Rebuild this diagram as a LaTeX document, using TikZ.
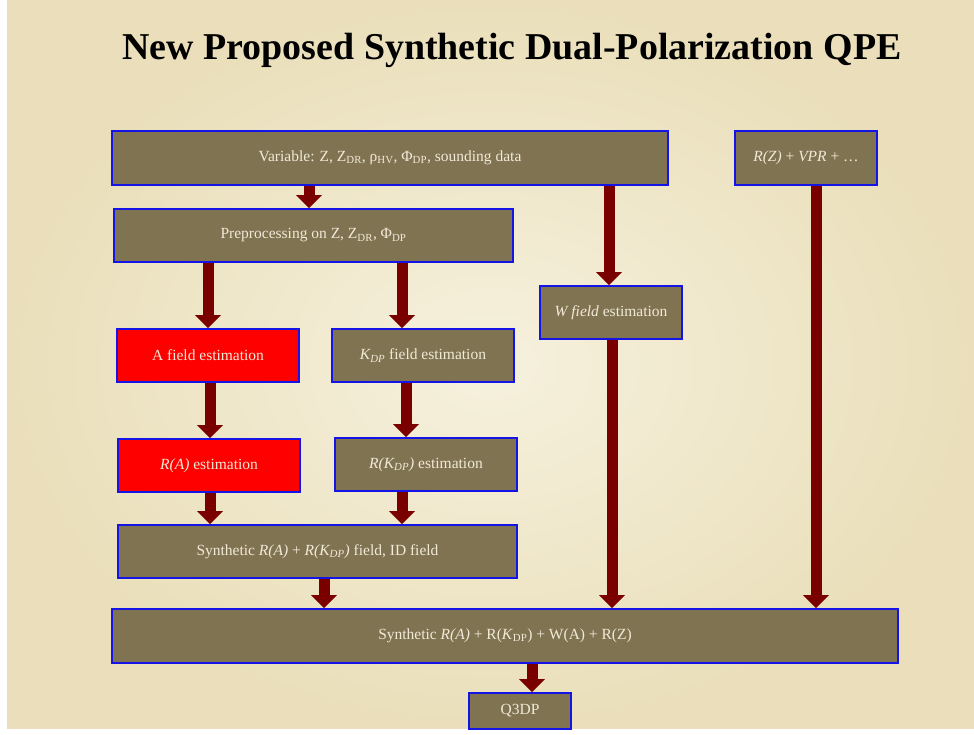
\documentclass[tikz,border=0pt]{standalone}
\usepackage{fontspec}
\setmainfont{Liberation Serif}
\usetikzlibrary{arrows.meta}

\definecolor{paperlight}{RGB}{246,241,222}
\definecolor{papertan}{RGB}{234,223,186}
\definecolor{boxolive}{RGB}{128,115,82}
\definecolor{boxline}{RGB}{20,20,230}
\definecolor{boxred}{RGB}{255,0,0}
\definecolor{boxtext}{RGB}{240,234,215}
\definecolor{flowred}{RGB}{122,0,0}

\tikzset{
  stepbox/.style={draw=boxline, line width=1.6pt, fill=boxolive,
    text=boxtext, font=\fontsize{15.5}{18}\selectfont,
    inner sep=0pt, anchor=center},
  redbox/.style={stepbox, fill=boxred},
  flow/.style={draw=flowred, line width=11pt,
    -{Triangle[width=25pt,length=13pt]}},
}

\begin{document}
\begin{tikzpicture}[x=1pt,y=-1pt]
  % page and parchment background
  \useasboundingbox (0,0) rectangle (974,735);
  \fill[white] (0,0) rectangle (974,735);
  \shade[inner color=paperlight, outer color=papertan]
    (7,0) rectangle (974,728);

  % title
  \node (title) at (512,50)
    {\resizebox{779pt}{!}{\fontsize{38}{40}\selectfont\bfseries New Proposed Synthetic Dual-Polarization QPE}};

  % process boxes
  \node[stepbox, minimum width=556pt, minimum height=54pt] (var) at (390,158)
    {Variable: Z, Z\textsubscript{DR}, ρ\textsubscript{HV}, Φ\textsubscript{DP}, sounding data};
  \node[stepbox, minimum width=142pt, minimum height=54pt] (rz) at (806,158)
    {\textit{R(Z)} + \textit{VPR} + \dots};
  \node[stepbox, minimum width=399pt, minimum height=53pt] (pre) at (313.5,235.5)
    {Preprocessing on Z, Z\textsubscript{DR}, Φ\textsubscript{DP}};
  \node[stepbox, minimum width=142pt, minimum height=53pt] (wf) at (611,312.5)
    {\textit{W field} estimation};
  \node[redbox, minimum width=182pt, minimum height=53pt] (af) at (208,355.5)
    {A field estimation};
  \node[stepbox, minimum width=182pt, minimum height=53pt] (kf) at (423,355.5)
    {\textit{K\textsubscript{DP}} field estimation};
  \node[redbox, minimum width=182pt, minimum height=53pt] (ra) at (209,465.5)
    {\textit{R(A)} estimation};
  \node[stepbox, minimum width=182pt, minimum height=53pt] (rk) at (426,464.5)
    {\textit{R(K\textsubscript{DP})} estimation};
  \node[stepbox, minimum width=399pt, minimum height=53pt] (syn) at (317.5,551.5)
    {Synthetic \textit{R(A)} + \textit{R(K\textsubscript{DP})} field, ID field};
  \node[stepbox, minimum width=786pt, minimum height=54pt] (fin) at (505,636)
    {Synthetic \textit{R(A)} + R(\textit{K}\textsubscript{DP}) + W(A) + R(Z)};
  \node[stepbox, minimum width=102pt, minimum height=36pt] (q3) at (520,711)
    {Q3DP};

  % flow arrows
  \draw[flow] (var.south -| 309,0) -- (pre.north -| 309,0);
  \draw[flow] (var.south -| 609,0) -- (wf.north -| 609,0);
  \draw[flow] (rz.south -| 816,0) -- (fin.north -| 816,0);
  \draw[flow] (pre.south -| 208,0) -- (af.north -| 208,0);
  \draw[flow] (pre.south -| 402,0) -- (kf.north -| 402,0);
  \draw[flow] (af.south -| 210,0) -- (ra.north -| 210,0);
  \draw[flow] (kf.south -| 406,0) -- (rk.north -| 406,0);
  \draw[flow] (ra.south -| 210,0) -- (syn.north -| 210,0);
  \draw[flow] (rk.south -| 402,0) -- (syn.north -| 402,0);
  \draw[flow] (wf.south -| 612,0) -- (fin.north -| 612,0);
  \draw[flow] (syn.south -| 324,0) -- (fin.north -| 324,0);
  \draw[flow] (fin.south -| 532,0) -- (q3.north -| 532,0);
\end{tikzpicture}
\end{document}
